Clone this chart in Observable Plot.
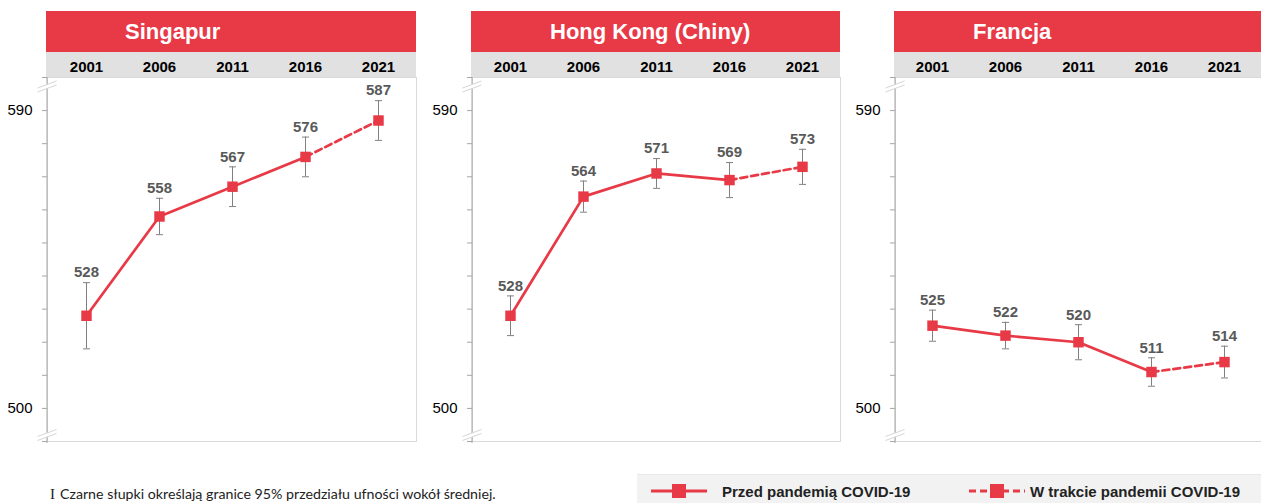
<!DOCTYPE html>
<html><head><meta charset="utf-8">
<script src="https://cdn.jsdelivr.net/npm/d3@7"></script>
<script src="https://cdn.jsdelivr.net/npm/@observablehq/plot@0.6"></script>
<style>
body{margin:0;background:#fff;}
#root{position:relative;width:1261px;height:503px;overflow:hidden;font-family:"Liberation Sans",Arial,sans-serif;}
.title{position:absolute;top:11px;height:41px;background:#e83946;color:#fff;font-weight:bold;font-size:22px;line-height:41px;box-sizing:border-box;padding-left:79px;white-space:nowrap;}
.yearbar{position:absolute;top:52px;height:25px;background:#e1e1e1;}
.panel{position:absolute;top:52px;}
#note{position:absolute;left:50px;top:484px;font-family:Lato,"Open Sans",sans-serif;font-size:14.2px;color:#222;white-space:nowrap;line-height:20px;}
#note .sym{font-family:"Liberation Serif","DejaVu Serif",serif;font-size:15px;margin-right:5px;}
#legend{position:absolute;left:637px;top:474px;width:624px;height:29px;background:#f2f2f2;border-top:1px solid #e8e8e8;box-sizing:border-box;}
#legend .lab{position:absolute;top:0;line-height:29px;font-weight:bold;font-size:15px;color:#222;white-space:nowrap;}
#legend svg{position:absolute;top:0;}
</style>
</head><body>
<div id="root"></div>
<script>
// ---- data ----
const years = [2001, 2006, 2011, 2016, 2021];
const countries = ["Singapur", "Hong Kong (Chiny)", "Francja"];
const singapur = [528, 558, 567, 576, 587];
const hongKong = [528, 564, 571, 569, 573];
const francja = [525, 522, 520, 511, 514];
// half-width of 95% confidence interval
const singapurCI = [10, 5.5, 6, 6, 6];
const hongKongCI = [6, 4.7, 4.5, 5.3, 5.3];
const francjaCI = [4.7, 4, 5.3, 4.3, 4.8];
const yTicks = [490, 500, 510, 520, 530, 540, 550, 560, 570, 580, 590, 600];
const yLabels = [500, 590];
const legendLabels = ["Przed pandemią COVID-19", "W trakcie pandemii COVID-19"];
const note = "Czarne słupki określają granice 95% przedziału ufności wokół średniej.";

const seriesValues = [singapur, hongKong, francja];
const seriesCI = [singapurCI, hongKongCI, francjaCI];

// ---- layout ----
const RED = "#e83946";
const root = document.getElementById("root");
const axisX = [47, 472, 895];
const plotW = [369, 368, 366];
const ML = 47, MT = 25, PH = 364, MB = 6;

const capSymbol = {draw(ctx, size) { const r = Math.sqrt(size / Math.PI); ctx.moveTo(-r, 0); ctx.lineTo(r, 0); }};

function axisLine(index, scales, values, dims) {
  const g = d3.create("svg:g");
  const x = dims.marginLeft, y0 = dims.marginTop, y1 = dims.height - dims.marginBottom;
  g.append("line").attr("x1", x).attr("x2", x).attr("y1", y0).attr("y2", y1 + 2).attr("stroke", "#a6a6a6");
  for (const yc of [y0 + 9.5, y1 - 6]) {
    const dx = 9.5, dy = -3.5;
    g.append("path")
      .attr("d", `M${x - dx},${yc - dy - 2}L${x + dx},${yc + dy - 2}L${x + dx},${yc + dy + 2}L${x - dx},${yc - dy + 2}Z`)
      .attr("fill", "#fff");
    for (const o of [-2, 2]) {
      g.append("line").attr("x1", x - dx).attr("y1", yc - dy + o).attr("x2", x + dx).attr("y2", yc + dy + o)
        .attr("stroke", "#d6d6d6").attr("stroke-width", 1);
    }
  }
  return g.node();
}

countries.forEach((name, i) => {
  const t = document.createElement("div");
  t.className = "title";
  t.style.left = (axisX[i] - 1) + "px";
  t.style.width = (plotW[i] + 1) + "px";
  t.textContent = name;
  root.appendChild(t);
  const yb = document.createElement("div");
  yb.className = "yearbar";
  yb.style.left = (axisX[i] - 1) + "px";
  yb.style.width = (plotW[i] + 1) + "px";
  root.appendChild(yb);

  const vals = seriesValues[i], ci = seriesCI[i];
  const rows = years.map((y, j) => ({year: String(y), value: vals[j], lo: vals[j] - ci[j], hi: vals[j] + ci[j]}));
  const before = rows.slice(0, 4), during = rows.slice(3);

  const chart = Plot.plot({
    width: ML + plotW[i], height: MT + PH + MB,
    marginLeft: ML, marginRight: 0, marginTop: MT, marginBottom: MB,
    style: {background: "transparent", overflow: "visible", fontFamily: "Liberation Sans, Arial, sans-serif", fontSize: "15px"},
    x: {type: "point", domain: years.map(String), padding: 0.5, label: null},
    y: {domain: [490, 600], label: null},
    marks: [
      Plot.frame({stroke: "#d9d9d9"}),
      Plot.axisX({anchor: "top", label: null, tickSize: 0, tickPadding: 6, fontSize: 15, fontWeight: "bold", fill: "#000"}),
      Plot.axisY(yTicks, {label: null, tickSize: 5, tickFormat: () => "", stroke: "#a6a6a6"}),
      Plot.axisY(yLabels, {label: null, tickSize: 0, tickPadding: 15, fontSize: 15, fill: "#000"}),
      axisLine,
      Plot.ruleX(rows, {x: "year", y1: "lo", y2: "hi", stroke: "#808080", strokeWidth: 1}),
      Plot.dot(rows, {x: "year", y: "lo", symbol: capSymbol, r: 3.5, stroke: "#808080", strokeWidth: 1}),
      Plot.dot(rows, {x: "year", y: "hi", symbol: capSymbol, r: 3.5, stroke: "#808080", strokeWidth: 1}),
      Plot.line(before, {x: "year", y: "value", stroke: RED, strokeWidth: 2.7}),
      Plot.line(during, {x: "year", y: "value", stroke: RED, strokeWidth: 2.7, strokeDasharray: "7,4"}),
      Plot.dot(rows, {x: "year", y: "value", symbol: "square", r: 5.9, fill: RED}),
      Plot.text(rows, {x: "year", y: "hi", text: d => String(d.value), dy: -10, fill: "#595959", fontWeight: "bold", fontSize: 15})
    ]
  });
  const wrap = document.createElement("div");
  wrap.className = "panel";
  wrap.style.left = (axisX[i] - ML) + "px";
  wrap.appendChild(chart);
  root.appendChild(wrap);
});

// footnote
const n = document.createElement("div");
n.id = "note";
n.innerHTML = `<span class="sym">I</span>`;
n.appendChild(document.createTextNode(note));
root.appendChild(n);

// legend
const lg = document.createElement("div");
lg.id = "legend";
const symX = [13, 331], labX = [85, 393];
legendLabels.forEach((lab, k) => {
  const s = d3.create("svg").attr("width", 58).attr("height", 29).style("left", symX[k] + "px");
  s.append("line").attr("x1", 1).attr("x2", 57).attr("y1", 16).attr("y2", 16)
    .attr("stroke", RED).attr("stroke-width", 3).attr("stroke-dasharray", k ? "7,4" : null);
  s.append("rect").attr("x", 22).attr("y", 9).attr("width", 14).attr("height", 14).attr("fill", RED);
  lg.appendChild(s.node());
  const l = document.createElement("div");
  l.className = "lab";
  l.style.left = labX[k] + "px";
  l.style.top = "2px";
  l.textContent = lab;
  lg.appendChild(l);
});
root.appendChild(lg);
</script>
</body></html>
